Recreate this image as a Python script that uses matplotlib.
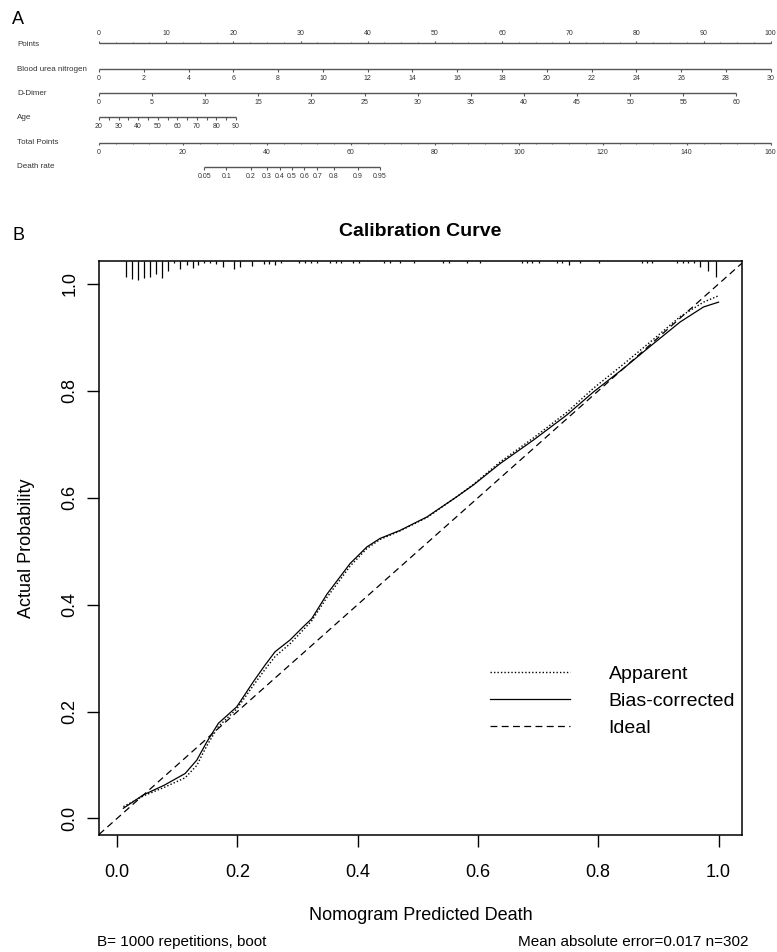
import numpy as np
import matplotlib
matplotlib.use('Agg')
from matplotlib import pyplot as plt

plt.rcParams['font.family'] = ['Liberation Sans', 'DejaVu Sans']

# ---- nomogram scales (panel A) ----
points_major = list(range(0, 101, 10))
bun_ticks = list(range(0, 31, 2))
bun_max_points = 100.0
ddimer_ticks = list(range(0, 61, 5))
ddimer_max_points = 94.9
age_ticks = list(range(20, 91, 5))
age_labels = list(range(20, 91, 10))
age_max_points = 20.4
total_ticks = list(range(0, 161, 20))
death_ticks = [0.05, 0.1, 0.2, 0.3, 0.4, 0.5, 0.6, 0.7, 0.8, 0.9, 0.95]
death_tp50 = 46.0        # total points where death rate = 0.5
death_tp_per_logit = 7.12

# ---- calibration curve (panel B) ----
pred = [0.0105, 0.0437, 0.0782, 0.1131, 0.1325, 0.1492, 0.1685, 0.1991, 0.2267, 0.2461,
        0.2628, 0.2877, 0.3072, 0.3238, 0.3492, 0.3875, 0.4153, 0.4374, 0.4706, 0.5150,
        0.5649, 0.5925, 0.6369, 0.6923, 0.7479, 0.7921, 0.8420, 0.8892, 0.9363, 0.9750, 1.0]
bias_corrected = [0.019, 0.044, 0.062, 0.084, 0.109, 0.143, 0.178, 0.209, 0.256, 0.287,
                  0.312, 0.334, 0.356, 0.374, 0.420, 0.477, 0.508, 0.524, 0.539, 0.564,
                  0.602, 0.624, 0.664, 0.708, 0.755, 0.798, 0.842, 0.886, 0.929, 0.957, 0.966]
apparent = [0.022, 0.042, 0.058, 0.076, 0.099, 0.136, 0.172, 0.205, 0.249, 0.279,
            0.303, 0.327, 0.350, 0.370, 0.414, 0.472, 0.505, 0.522, 0.538, 0.563,
            0.602, 0.625, 0.667, 0.712, 0.760, 0.805, 0.850, 0.894, 0.939, 0.966, 0.978]

# distribution of predicted risk (rug at top), relative heights
rug_x = [0.015, 0.025, 0.035, 0.045, 0.055, 0.065, 0.075, 0.085, 0.095, 0.105, 0.116, 0.126,
         0.134, 0.145, 0.155, 0.165, 0.176, 0.194, 0.204, 0.225, 0.245, 0.253, 0.262, 0.273,
         0.303, 0.313, 0.322, 0.332, 0.354, 0.364, 0.373, 0.393, 0.403, 0.443, 0.454, 0.470,
         0.493, 0.542, 0.552, 0.582, 0.603, 0.673, 0.681, 0.690, 0.701, 0.731, 0.740, 0.752,
         0.770, 0.802, 0.872, 0.881, 0.889, 0.931, 0.941, 0.950, 0.959, 0.969, 0.982, 0.996]
rug_h = [16, 18, 19, 17, 16, 13, 17, 10, 2, 8, 4, 7,
         4, 2, 2, 3, 6, 8, 6, 5, 3, 3, 4, 2,
         2, 2, 2, 2, 2, 2, 2, 2, 2, 2, 2, 2,
         2, 2, 2, 2, 2, 2, 2, 2, 2, 2, 2, 4,
         2, 2, 2, 2, 2, 2, 2, 2, 2, 6, 10, 16]

fig = plt.figure(figsize=(7.77, 9.52), dpi=100)

# ================= panel A: nomogram =================
ax = fig.add_axes([0, 1 - 200 / 952, 1, 200 / 952])
px_per_pt = 6.717
ax.set_xlim(-99 / px_per_pt, (777 - 99) / px_per_pt)
ax.set_ylim(200, 0)
ax.axis('off')

lc = '#555555'
tc = '#333333'
fs_lab = 5.8
fs_tick = 5.0
tick_len = 2.5

def scale_row(y, pos, labels_pos, labels, below=True, minor=None, name=''):
    ax.plot([pos[0], pos[-1]], [y, y], color=lc, lw=1.0, solid_capstyle='butt')
    sgn = 1 if below else -1
    ax.vlines(pos, y, y + sgn * tick_len, color=lc, lw=0.8)
    if minor is not None:
        ax.vlines(minor, y, y + sgn * 1.5, color=lc, lw=0.6)
    for p, t in zip(labels_pos, labels):
        ax.text(p, y + sgn * 9.5, t, ha='center', va='center', fontsize=fs_tick, color=tc)
    ax.text(17 / 777, y, name, transform=ax.get_yaxis_transform(), ha='left', va='center',
            fontsize=fs_lab, color=tc)

# Points
pts_minor = np.arange(0, 100.1, 2.5)
scale_row(43.3, points_major, points_major, [str(v) for v in points_major],
          below=False, minor=pts_minor, name='Points')
ax.texts[-1].set_y(45)

# Blood urea nitrogen
bun_pos = [v * bun_max_points / 30 for v in bun_ticks]
scale_row(69.3, bun_pos, bun_pos, [str(v) for v in bun_ticks], name='Blood urea nitrogen')

# D-Dimer
dd_pos = [v * ddimer_max_points / 60 for v in ddimer_ticks]
scale_row(93.3, dd_pos, dd_pos, [str(v) for v in ddimer_ticks], name='D-Dimer')

# Age
age_pos = [(v - 20) * age_max_points / 70 for v in age_ticks]
age_lpos = [(v - 20) * age_max_points / 70 for v in age_labels]
scale_row(117.3, age_pos, age_lpos, [str(v) for v in age_labels], name='Age')

# Total Points
tp_pos = [v * 100 / 160 for v in total_ticks]
tp_minor = [v * 100 / 160 for v in range(0, 161, 4)]
scale_row(142.7, tp_pos, tp_pos, [str(v) for v in total_ticks], minor=tp_minor,
          name='Total Points')

# Death rate
dr_tp = [death_tp50 + death_tp_per_logit * np.log(p / (1 - p)) for p in death_ticks]
dr_pos = [v * 100 / 160 for v in dr_tp]
scale_row(167, dr_pos, dr_pos, [('%g' % p) for p in death_ticks], name='Death rate')

fig.text(12 / 777, 1 - 19 / 952, 'A', fontsize=13, ha='left', va='center')

# ================= panel B: calibration =================
ax2 = fig.add_axes([99 / 777, 1 - 835 / 952, (742 - 99) / 777, (835 - 261) / 952])
xlim = (-0.030, 1.039)
ylim = (-0.031, 1.043)
ax2.set_xlim(*xlim)
ax2.set_ylim(*ylim)

ax2.plot(pred, apparent, color='black', lw=1.0, linestyle=(0, (1, 1.5)), label='Apparent')
ax2.plot(pred, bias_corrected, color='black', lw=0.9, label='Bias-corrected')
ax2.plot(xlim, xlim, color='black', lw=0.9, linestyle=(0, (5.5, 3.5)), label='Ideal')

rug_scale = 1.0 / 534.5
ax2.vlines(rug_x, [ylim[1] - h * rug_scale for h in rug_h], ylim[1], color='black', lw=0.9)

for s in ax2.spines.values():
    s.set_linewidth(1.1)
ax2.set_xticks([0.0, 0.2, 0.4, 0.6, 0.8, 1.0])
ax2.set_yticks([0.0, 0.2, 0.4, 0.6, 0.8, 1.0])
ax2.set_xticklabels(['0.0', '0.2', '0.4', '0.6', '0.8', '1.0'])
ax2.set_yticklabels(['0.0', '0.2', '0.4', '0.6', '0.8', '1.0'], rotation=90, va='center')
ax2.tick_params(axis='both', direction='out', length=8.6, width=1.0, labelsize=13)
ax2.tick_params(axis='x', pad=12)
ax2.tick_params(axis='y', pad=6)

ax2.set_xlabel('Nomogram Predicted Death', fontsize=13, labelpad=19)
ax2.set_ylabel('Actual Probability', fontsize=13, labelpad=19)
ax2.set_title('Calibration Curve', fontsize=14, fontweight='bold', pad=18)

leg = ax2.legend(loc='upper left', bbox_to_anchor=((490 - 99) / 643, (835 - 665) / 574),
                 frameon=False, fontsize=14, handlelength=4.1, handletextpad=2.0,
                 labelspacing=0.5, borderpad=0, borderaxespad=0)

fig.text(97 / 777, 1 - 942 / 952, 'B= 1000 repetitions, boot', fontsize=11,
         ha='left', va='center')
fig.text(748 / 777, 1 - 942 / 952, 'Mean absolute error=0.017 n=302', fontsize=11,
         ha='right', va='center')
fig.text(12 / 777, 1 - 235 / 952, 'B', fontsize=13, ha='left', va='center')

fig.savefig('out.png', dpi=100)
